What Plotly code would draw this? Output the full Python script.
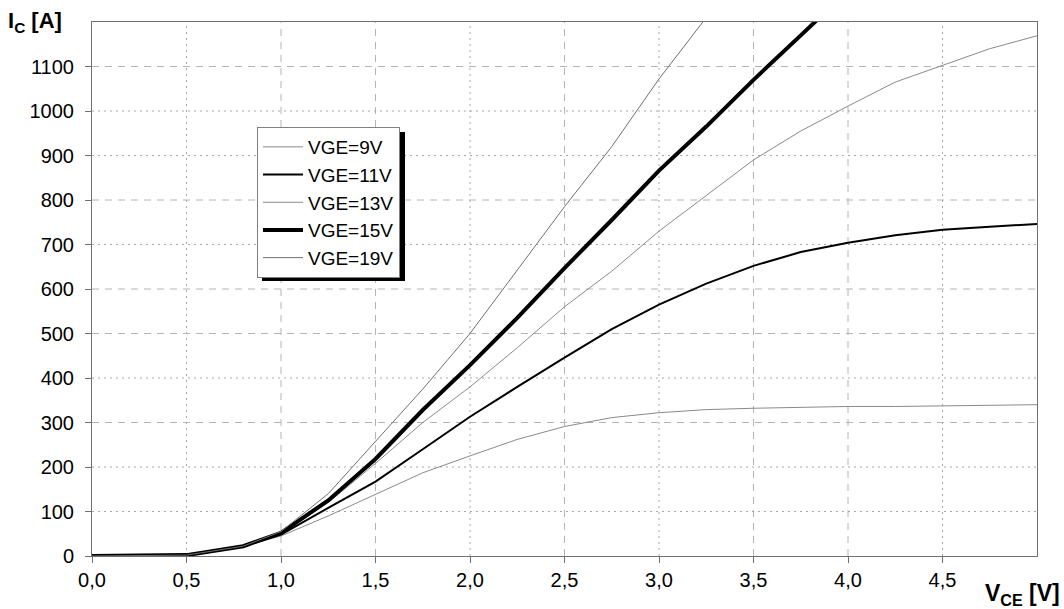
import plotly.graph_objects as go

# Output characteristics I_C = f(V_CE) for several gate voltages
vce = [0.0, 0.5, 0.8, 1.0, 1.25, 1.5, 1.75, 2.0, 2.25, 2.5, 2.75, 3.0, 3.25,
       3.5, 3.75, 4.0, 4.25, 4.5, 4.75, 5.0]

ic_9v = [0, 2, 22, 45, 90, 139, 187, 225, 262, 291, 311, 322, 329,
         332, 334, 336, 336, 337, 338, 340]
ic_11v = [0, 2, 22, 48, 108, 167, 240, 313, 380, 446, 510, 565, 612,
          652, 683, 704, 721, 733, 740, 746]
ic_13v = [0, 2, 22, 50, 120, 208, 300, 380, 468, 560, 640, 730, 810,
          890, 955, 1011, 1065, 1103, 1140, 1169]
ic_15v = [0, 2, 22, 52, 125, 218, 328, 429, 535, 647, 755, 866, 965,
          1070, 1170, 1270]
ic_19v = [0, 2, 22, 55, 140, 258, 375, 500, 643, 785, 920, 1072, 1210]

series_names = ["VGE=9V", "VGE=11V", "VGE=13V", "VGE=15V", "VGE=19V"]
series_values = [ic_9v, ic_11v, ic_13v, ic_15v, ic_19v]
series_colors = ["#8a8a8a", "#000000", "#8a8a8a", "#000000", "#707070"]
series_widths = [1, 2, 1, 4, 1]

x_tick_vals = [0.0, 0.5, 1.0, 1.5, 2.0, 2.5, 3.0, 3.5, 4.0, 4.5]
x_tick_text = ["0,0", "0,5", "1,0", "1,5", "2,0", "2,5", "3,0", "3,5", "4,0", "4,5"]
y_tick_vals = [0, 100, 200, 300, 400, 500, 600, 700, 800, 900, 1000, 1100]

grid_x_dashed = [1.0, 1.5, 2.5, 3.5, 4.0]
grid_x_dotted = [0.5, 2.0, 3.0, 4.5]
grid_y_dashed = [300, 500, 600, 800, 1100]
grid_y_dotted = [100, 200, 400, 700, 900, 1000]

X_MAX = 5.0
Y_MAX = 1200

# plot area in pixels
L, R, T, B = 92, 27, 22, 53
PW, PH = 1064 - L - R, 609 - T - B


def px_x(p):
    return (p - L) / PW


def px_y(p):
    return (609 - B - p) / PH


fig = go.Figure()

for name, vals, col, w in zip(series_names, series_values, series_colors, series_widths):
    fig.add_trace(go.Scatter(
        x=vce[:len(vals)], y=vals, mode="lines", name=name,
        legendgroup=name,
        line=dict(color=col, width=w),
    ))

shapes = []
dash_style = dict(color="#b4b4b4", width=1, dash="7px,6px")
dot_style = dict(color="#a8a8a8", width=1, dash="2px,4px")
for gx in grid_x_dashed:
    shapes.append(dict(type="line", xref="x", yref="y", x0=gx, x1=gx, y0=0, y1=Y_MAX,
                       line=dash_style, layer="below"))
for gx in grid_x_dotted:
    shapes.append(dict(type="line", xref="x", yref="y", x0=gx, x1=gx, y0=0, y1=Y_MAX,
                       line=dot_style, layer="below"))
for gy in grid_y_dashed:
    shapes.append(dict(type="line", xref="x", yref="y", x0=0, x1=X_MAX, y0=gy, y1=gy,
                       line=dash_style, layer="below"))
for gy in grid_y_dotted:
    shapes.append(dict(type="line", xref="x", yref="y", x0=0, x1=X_MAX, y0=gy, y1=gy,
                       line=dot_style, layer="below"))

# drop shadow behind the legend box
shapes.append(dict(type="rect", xref="paper", yref="paper",
                   x0=px_x(262), x1=px_x(405), y0=px_y(281), y1=px_y(132),
                   fillcolor="black", line=dict(width=0), layer="above"))

fig.update_layout(
    width=1064, height=609,
    margin=dict(l=L, r=R, t=T, b=B),
    paper_bgcolor="white", plot_bgcolor="white",
    font=dict(family="Liberation Sans, Arial, sans-serif", size=20, color="black"),
    shapes=shapes,
    showlegend=True,
    legend=dict(
        x=px_x(257), y=px_y(127), xanchor="left", yanchor="top",
        bgcolor="white", bordercolor="#808080", borderwidth=1,
        font=dict(size=19), tracegroupgap=0, itemwidth=40,
    ),
    xaxis=dict(
        range=[0, X_MAX], showgrid=False, zeroline=False,
        tickvals=x_tick_vals, ticktext=x_tick_text,
        ticks="outside", ticklen=6, tickcolor="#707070",
        showline=True, linecolor="#707070", linewidth=1, mirror=True,
        tickfont=dict(size=20),
    ),
    yaxis=dict(
        range=[0, Y_MAX], showgrid=False, zeroline=False,
        tickvals=y_tick_vals,
        ticks="outside", ticklen=6, tickcolor="#707070",
        showline=True, linecolor="#707070", linewidth=1, mirror=True,
        tickfont=dict(size=20), ticklabelstandoff=7,
    ),
    annotations=[
        dict(text="<b>I<sub>C</sub> [A]</b>", xref="paper", yref="paper",
             x=px_x(6), y=px_y(22), xanchor="left", yanchor="middle",
             showarrow=False, font=dict(size=22)),
        dict(text="<b>V<sub>CE</sub> [V]</b>", xref="paper", yref="paper",
             x=px_x(1062), y=px_y(594), xanchor="right", yanchor="middle",
             showarrow=False, font=dict(size=23)),
    ],
)

fig.write_html("out.html")
